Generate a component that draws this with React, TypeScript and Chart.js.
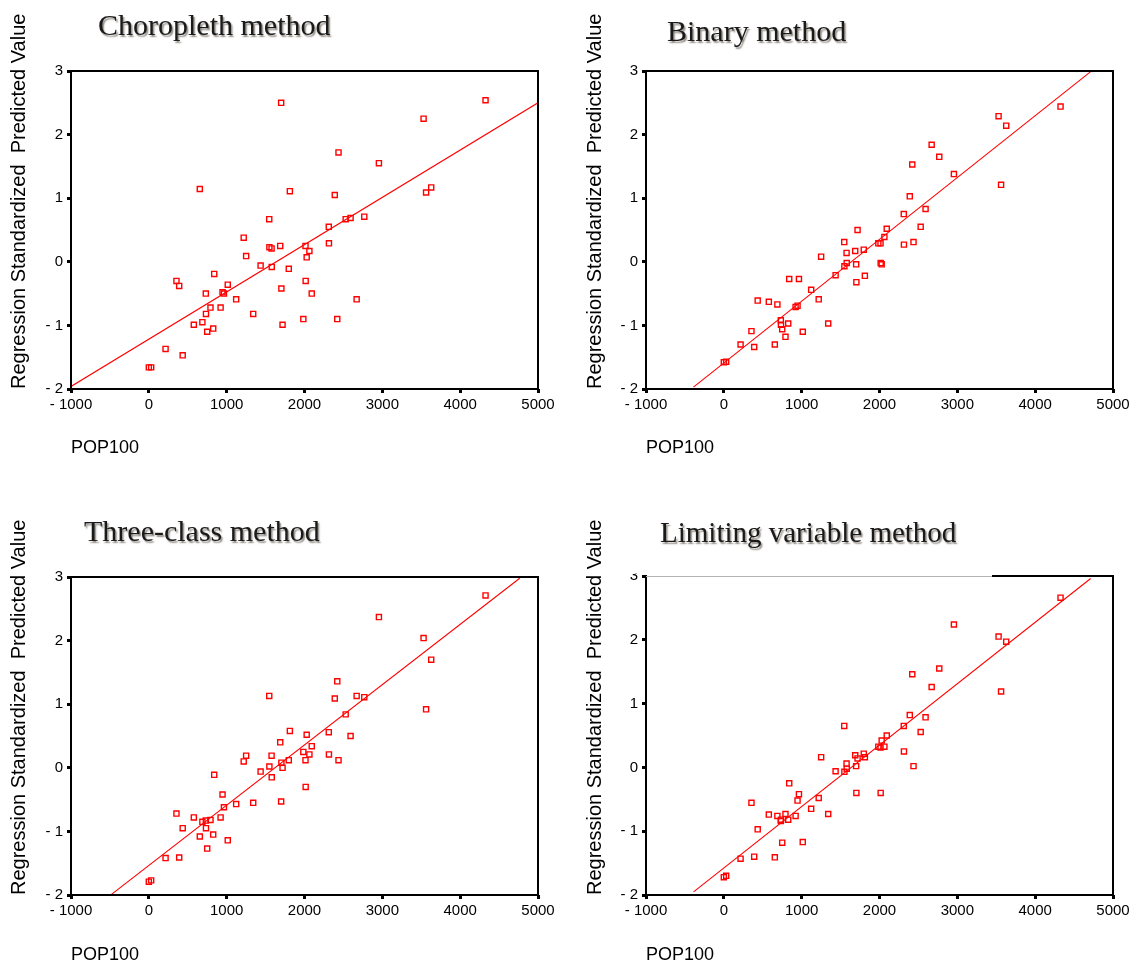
import React, { useEffect, useRef } from 'react';
import { Chart, registerables } from 'chart.js';

Chart.register(...registerables);
Chart.defaults.font.family = "'Liberation Sans', Arial, sans-serif";

// ---- data ----
const POP100 = [0, 30, 215, 355, 390, 435, 578, 655, 688, 732, 734, 750, 792, 827, 840, 922, 947, 965, 1014, 1122,
  1219, 1250, 1341, 1436, 1547, 1549, 1577, 1579, 1688, 1700, 1703, 1718, 1798, 1812, 1985, 2013, 2015, 2028, 2063, 2093,
  2312, 2314, 2389, 2421, 2437, 2529, 2592, 2670, 2768, 2956, 3530, 3562, 3628, 4326];

const CHOROPLETH = [-1.66, -1.66, -1.37, -0.30, -0.38, -1.47, -0.99, 1.145, -0.95, -0.50, -0.82, -1.10, -0.72, -1.05, -0.19, -0.72, -0.48, -0.50, -0.36, -0.59,
  0.38, 0.09, -0.82, -0.06, 0.67, 0.23, 0.21, -0.08, 0.25, 2.50, -0.42, -0.99, -0.11, 1.11, -0.90, 0.25, -0.30, 0.07, 0.17, -0.50,
  0.55, 0.29, 1.05, -0.90, 1.72, 0.67, 0.69, -0.59, 0.71, 1.55, 2.25, 1.09, 1.17, 2.54];

const BINARY = [-1.58, -1.57, -1.30, -1.09, -1.34, -0.61, -0.63, -1.30, -0.67, -0.92, -0.99, -1.06, -1.18, -0.97, -0.27, -0.71, -0.69, -0.27, -1.10, -0.44,
  -0.59, 0.08, -0.97, -0.21, 0.31, -0.07, 0.14, -0.02, 0.17, -0.04, -0.32, 0.50, 0.19, -0.22, 0.29, 0.29, -0.02, -0.04, 0.39, 0.52,
  0.75, 0.27, 1.03, 1.53, 0.31, 0.55, 0.83, 1.84, 1.65, 1.38, 2.29, 1.21, 2.14, 2.44];

const THREE_CLASS = [-1.79, -1.77, -1.42, -0.72, -1.41, -0.95, -0.78, -1.08, -0.85, -0.83, -0.95, -1.27, -0.82, -1.05, -0.11, -0.78, -0.42, -0.62, -1.14, -0.57,
  0.10, 0.19, -0.55, -0.06, 1.13, 0.02, 0.19, -0.15, 0.40, -0.53, 0.08, 0.00, 0.12, 0.58, 0.25, 0.12, -0.30, 0.52, 0.21, 0.34,
  0.56, 0.21, 1.09, 1.36, 0.12, 0.84, 0.50, 1.13, 1.11, 2.37, 2.04, 0.92, 1.70, 2.71];

const LIMITING = [-1.72, -1.70, -1.43, -0.555, -1.40, -0.97, -0.74, -1.41, -0.76, -0.84, -0.82, -1.18, -0.73, -0.82, -0.25, -0.76, -0.52, -0.42, -1.17, -0.65,
  -0.48, 0.16, -0.73, -0.06, 0.65, -0.07, 0.06, -0.02, 0.19, 0.02, -0.40, 0.14, 0.215, 0.16, 0.325, 0.31, -0.40, 0.42, 0.325, 0.50,
  0.65, 0.25, 0.82, 1.46, 0.02, 0.555, 0.785, 1.26, 1.55, 2.24, 2.05, 1.19, 1.97, 2.66];

// fit lines: end points
const FIT_X_CHOROPLETH = [-1000, 5000];
const FIT_Y_CHOROPLETH = [-1.96, 2.50];
const FIT_X_BINARY = [-390, 4713];
const FIT_Y_BINARY = [-1.97, 2.99];
const FIT_X_THREE_CLASS = [-480, 4765];
const FIT_Y_THREE_CLASS = [-1.99, 2.98];
const FIT_X_LIMITING = [-389, 4713];
const FIT_Y_LIMITING = [-1.95, 2.96];

const X_RANGE = [-1000, 5000];
const X_STEP = 1000;
const Y_RANGE = [-2, 3];
const Y_STEP = 1;

const TITLES = ['Choropleth method', 'Binary method', 'Three-class method', 'Limiting variable method'];
const X_LABEL = 'POP100';
const Y_LABEL = 'Regression Standardized  Predicted Value';

// ---- layout (positions / sizes) ----
const PANELS = [
  { left: 0, top: 0, w: 567, h: 482, area: { l: 71, r: 538, t: 71, b: 389 }, xTitlePad: 25, yTitlePad: 7, tx: 98, ty: 10, fs: 30, cover: 0 },
  { left: 567, top: 0, w: 568, h: 482, area: { l: 79, r: 546, t: 71, b: 389 }, xTitlePad: 25, yTitlePad: 16, tx: 667, ty: 16, fs: 30, cover: 0 },
  { left: 0, top: 482, w: 567, h: 482, area: { l: 71, r: 538, t: 95, b: 413 }, xTitlePad: 0, yTitlePad: 7, tx: 84, ty: 516, fs: 30, cover: 0 },
  { left: 567, top: 482, w: 568, h: 482, area: { l: 79, r: 546, t: 94, b: 413 }, xTitlePad: 0, yTitlePad: 16, tx: 660, ty: 518, fs: 29, cover: 425 },
];

const RED = '#ff0000';

const fmt = (v: any) => {
  const n = Number(v);
  return n < 0 ? '- ' + Math.abs(n) : String(n);
};

const framePlugin = {
  id: 'frame',
  afterDraw(chart: any, _args: any, opts: any) {
    const { ctx, chartArea: a } = chart;
    ctx.save();
    ctx.strokeStyle = '#000';
    ctx.lineWidth = 2;
    ctx.strokeRect(a.left, a.top, a.right - a.left, a.bottom - a.top);
    if (opts && opts.cover) {
      ctx.fillStyle = '#fff';
      ctx.fillRect(a.left - 30, a.top - 16, opts.cover - (a.left - 30), 13.5);
      ctx.fillRect(a.left + 1, a.top - 1.5, opts.cover - (a.left + 1), 2.5);
      ctx.strokeStyle = '#b4b4b4';
      ctx.lineWidth = 1;
      ctx.beginPath();
      ctx.moveTo(a.left, a.top + 0.5);
      ctx.lineTo(opts.cover, a.top + 0.5);
      ctx.stroke();
    }
    ctx.restore();
  },
};

function Panel({ cfg, ys, fitX, fitY }: any) {
  const ref = useRef<HTMLCanvasElement>(null);
  useEffect(() => {
    const { area, w, h } = cfg;
    const tickGrid = { drawOnChartArea: false, drawTicks: true, tickLength: 4, tickWidth: 3, tickColor: '#000' };
    const chart = new Chart(ref.current as HTMLCanvasElement, {
      type: 'scatter',
      data: {
        datasets: [
          {
            type: 'scatter',
            data: POP100.map((x, i) => ({ x, y: ys[i] })),
            pointStyle: 'rect',
            pointRadius: 3.6,
            pointHoverRadius: 3.6,
            borderWidth: 1.4,
            pointBorderWidth: 1.4,
            borderColor: RED,
            backgroundColor: 'rgba(0,0,0,0)',
          } as any,
          {
            type: 'line',
            data: fitX.map((x: number, i: number) => ({ x, y: fitY[i] })),
            borderColor: RED,
            borderWidth: 1.1,
            pointRadius: 0,
            fill: false,
            tension: 0,
          } as any,
        ],
      },
      options: {
        animation: false,
        responsive: false,
        devicePixelRatio: 1,
        events: [],
        layout: { padding: { left: 0, top: area.t, right: w - area.r, bottom: 0 } },
        plugins: {
          legend: { display: false },
          tooltip: { enabled: false },
          frame: { cover: cfg.cover },
        } as any,
        scales: {
          x: {
            type: 'linear',
            min: X_RANGE[0],
            max: X_RANGE[1],
            ticks: { stepSize: X_STEP, color: '#000', font: { size: 15 }, padding: 3, callback: fmt, maxRotation: 0, autoSkip: false },
            grid: tickGrid,
            border: { display: false },
            title: {
              display: true, text: X_LABEL, align: 'start', color: '#000',
              font: { size: 18, lineHeight: 1 }, padding: { top: 0, bottom: cfg.xTitlePad },
            },
            afterFit: (s: any) => { s.height = h - area.b; },
          } as any,
          y: {
            type: 'linear',
            min: Y_RANGE[0],
            max: Y_RANGE[1],
            ticks: { stepSize: Y_STEP, color: '#000', font: { size: 15 }, padding: 4, callback: fmt, autoSkip: false },
            grid: tickGrid,
            border: { display: false },
            title: {
              display: true, text: Y_LABEL, align: 'start', color: '#000',
              font: { size: 20 }, padding: { top: cfg.yTitlePad, bottom: 0 },
            },
            afterFit: (s: any) => { s.width = area.l; },
          } as any,
        },
      },
      plugins: [framePlugin as any],
    });
    return () => chart.destroy();
  }, []);
  return (
    <canvas
      ref={ref}
      width={cfg.w}
      height={cfg.h}
      style={{ position: 'absolute', left: cfg.left, top: cfg.top, width: cfg.w, height: cfg.h }}
    />
  );
}

const SERIES = [CHOROPLETH, BINARY, THREE_CLASS, LIMITING];
const FITS_X = [FIT_X_CHOROPLETH, FIT_X_BINARY, FIT_X_THREE_CLASS, FIT_X_LIMITING];
const FITS_Y = [FIT_Y_CHOROPLETH, FIT_Y_BINARY, FIT_Y_THREE_CLASS, FIT_Y_LIMITING];

export default function App() {
  return (
    <div style={{ position: 'absolute', left: 0, top: 0, width: 1135, height: 964, background: '#fff', overflow: 'hidden' }}>
      {PANELS.map((p, i) => (
        <Panel key={i} cfg={p} ys={SERIES[i]} fitX={FITS_X[i]} fitY={FITS_Y[i]} />
      ))}
      {PANELS.map((p, i) => (
        <div
          key={'t' + i}
          style={{
            position: 'absolute', left: p.tx, top: p.ty, whiteSpace: 'nowrap',
            fontFamily: "'Liberation Serif', 'Times New Roman', serif", fontSize: p.fs, lineHeight: p.fs + 'px',
            color: '#1a1a1a', textShadow: '1.5px 1.5px 1.5px rgba(110,100,90,0.75)',
          }}
        >
          {TITLES[i]}
        </div>
      ))}
    </div>
  );
}
